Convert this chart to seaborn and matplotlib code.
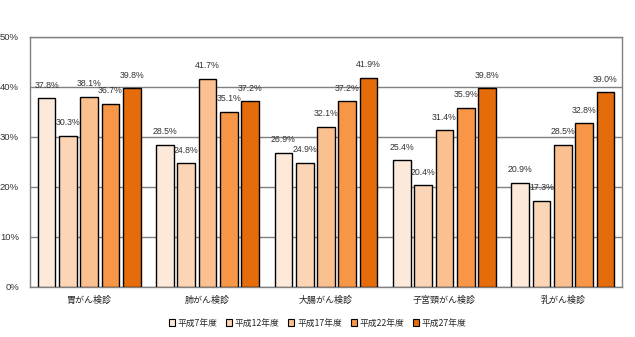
import matplotlib
matplotlib.use("Agg")
import matplotlib.pyplot as plt
import seaborn as sns
import pandas as pd
from matplotlib.patches import Patch

categories = ["胃がん検診", "肺がん検診", "大腸がん検診", "子宮頸がん検診", "乳がん検診"]
years = ["平成7年度", "平成12年度", "平成17年度", "平成22年度", "平成27年度"]
h7 = [37.8, 28.5, 26.9, 25.4, 20.9]
h12 = [30.3, 24.8, 24.9, 20.4, 17.3]
h17 = [38.1, 41.7, 32.1, 31.4, 28.5]
h22 = [36.7, 35.1, 37.2, 35.9, 32.8]
h27 = [39.8, 37.2, 41.9, 39.8, 39.0]
colors = ["#FDE9D9", "#FBD5B5", "#FAC090", "#F79646", "#E46C0A"]

series = [h7, h12, h17, h22, h27]
rows = []
for y, vals in zip(years, series):
    for c, v in zip(categories, vals):
        rows.append({"cat": c, "year": y, "val": v})
df = pd.DataFrame(rows)

sns.set_theme(style="white")
plt.rcParams['font.family'] = ['Noto Sans CJK JP', 'DejaVu Sans']

fig = plt.figure(figsize=(6.35, 3.37), dpi=100)
ax = fig.add_axes([30/635, 1-287/337, 592/635, 250/337])

sns.barplot(data=df, x="cat", y="val", hue="year", order=categories, hue_order=years,
            palette=colors, saturation=1, width=0.9, gap=0.17, edgecolor="black",
            linewidth=1.0, legend=False, ax=ax, zorder=3)

for cont in ax.containers:
    labels = [f"{b.get_height():.1f}%" for b in cont]
    ax.bar_label(cont, labels=labels, padding=6, fontsize=6.3, color="#333333",
                 family=['Liberation Sans', 'DejaVu Sans'])

ax.set_ylim(0, 50)
ax.set_xlim(-0.5, 4.5)
ax.set_yticks([0, 10, 20, 30, 40, 50])
ax.set_yticklabels([f"{t}%" for t in [0, 10, 20, 30, 40, 50]], fontsize=6.8,
                   family=['Liberation Sans', 'DejaVu Sans'], color="#333333")
ax.yaxis.grid(True, color="#808080", linewidth=1.0, zorder=0)
ax.set_axisbelow(True)
ax.tick_params(axis='y', length=0, pad=8)
ax.tick_params(axis='x', length=0, pad=6, labelsize=6.5)
ax.set_xlabel("")
ax.set_ylabel("")
for s in ax.spines.values():
    s.set_color("#808080")
    s.set_linewidth(1.0)

handles = [Patch(facecolor=c, edgecolor="black", linewidth=0.8) for c in colors]
fig.legend(handles, years, loc="center", bbox_to_anchor=(0.5, 1-323/337), ncol=5,
           frameon=False, fontsize=6.3, handlelength=0.7, handleheight=0.7,
           handletextpad=0.3, columnspacing=1.0)

fig.savefig("out.png", dpi=100)
